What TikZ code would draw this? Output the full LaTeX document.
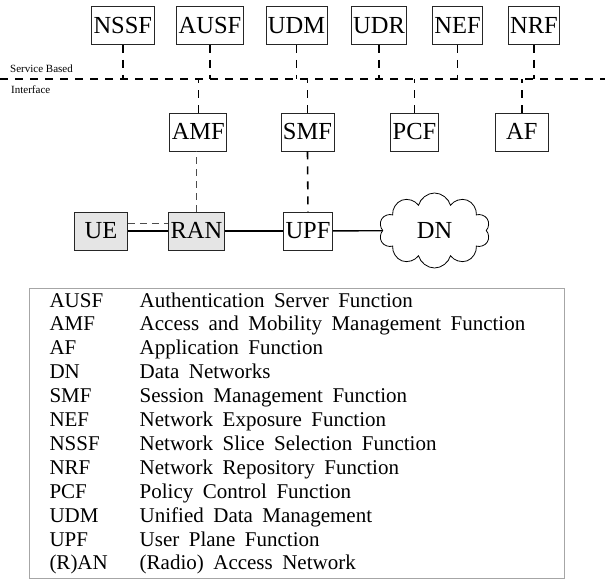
\documentclass[tikz,border=0pt]{standalone}
\usepackage{fontspec}
\setmainfont{Liberation Serif}
\usetikzlibrary{shapes.symbols}
\newcommand{\legendfont}{\fontsize{21}{24}\selectfont\spaceskip=9.5pt plus 1pt\relax}

\begin{document}
\begin{tikzpicture}[x=1pt,y=-1pt,
	nf/.style={draw=black!85, line width=0.8pt, font=\fontsize{24.5}{24.5}\selectfont, inner xsep=2pt, inner ysep=0pt, text height=16pt, text depth=0pt, minimum height=38pt},
	ran/.style={nf, fill=black!10},
	sbi/.style={dash pattern=on 8pt off 7pt, line width=1.6pt},
	ctrl/.style={dash pattern=on 7pt off 5pt, line width=0.9pt, black!70},
	user/.style={line width=1.4pt},
	small/.style={anchor=base west, inner sep=0pt, font=\fontsize{11}{11}\selectfont},
	abbr/.style={anchor=base west, inner sep=0pt, font=\legendfont}]

	\useasboundingbox (0,0) rectangle (605,580);

	%Define the rows (y of the box centres) and the bus line
	\pgfmathsetmacro{\ytop}{25.5}
	\pgfmathsetmacro{\ymid}{132}
	\pgfmathsetmacro{\ybot}{231}
	\pgfmathsetmacro{\ybus}{79}

	%Service based bus
	\coordinate (busw) at (0,\ybus);
	\coordinate (buse) at (605,\ybus);
	\draw[sbi] (busw) -- (buse);
	\node[small] (sbtext) at (10,73) {Service Based};
	\node[small] (iftext) at (11,94) {Interface};

	%Network functions above the bus
	\node[nf] (nssf) at (122.8,\ytop) {NSSF};
	\node[nf] (ausf) at (210,\ytop) {AUSF};
	\node[nf] (udm) at (296.5,\ytop) {UDM};
	\node[nf] (udr) at (379,\ytop) {UDR};
	\node[nf] (nef) at (457.5,\ytop) {NEF};
	\node[nf] (nrf) at (534,\ytop) {NRF};
	\foreach \n in {nssf,ausf,udm,udr,nef,nrf}
		\draw[sbi] (\n.south) -- (\n.south |- busw);

	%Network functions below the bus
	\node[nf] (amf) at (198.3,\ymid) {AMF};
	\node[nf] (smf) at (307.5,\ymid) {SMF};
	\node[nf] (pcf) at (414.5,\ymid) {PCF};
	\node[nf, minimum width=53pt] (af) at (521.8,\ymid) {AF};
	\foreach \n in {amf,smf,pcf,af}
		\draw[sbi] (\n.north) -- (\n.north |- busw);

	%User plane
	\node[ran, minimum width=53pt] (ue) at (101,\ybot) {UE};
	\node[ran] (ran) at (196.5,\ybot) {RAN};
	\node[nf] (upf) at (308,\ybot) {UPF};
	\node[cloud, cloud puffs=10, cloud ignores aspect, draw, line width=0.8pt, minimum width=111pt, minimum height=75pt, inner sep=0pt, font=\fontsize{24.5}{24.5}\selectfont] (dn) at (434.5,230.5) {DN};

	\draw[user] (ue) -- (ran);
	\draw[user] (ran) -- (upf);
	\draw[user] (upf) -- (dn);
	\draw[ctrl] ([yshift=8pt]ue.east) -- ([yshift=8pt]ran.west);
	\draw[ctrl] (ran.north) -- (ran.north |- amf.south);
	\draw[sbi] (smf.south) -- (upf.north);

	%Legend
	\draw[black!35, line width=1pt] (29.3,288) rectangle (564,578);
	\foreach \ab/\de [count=\i] in {AUSF/{Authentication Server Function},
			AMF/{Access and Mobility Management Function},
			AF/{Application Function},
			DN/{Data Networks},
			SMF/{Session Management Function},
			NEF/{Network Exposure Function},
			NSSF/{Network Slice Selection Function},
			NRF/{Network Repository Function},
			PCF/{Policy Control Function},
			UDM/{Unified Data Management},
			UPF/{User Plane Function},
			{(R)AN}/{(Radio) Access Network}}
	{
		\pgfmathsetmacro{\yrow}{307+(\i-1)*23.9}
		\node[abbr] (ab\i) at (49.3,\yrow) {\ab};
		\node[abbr] (de\i) at (139.5,\yrow) {\de};
	}

\end{tikzpicture}
\end{document}
